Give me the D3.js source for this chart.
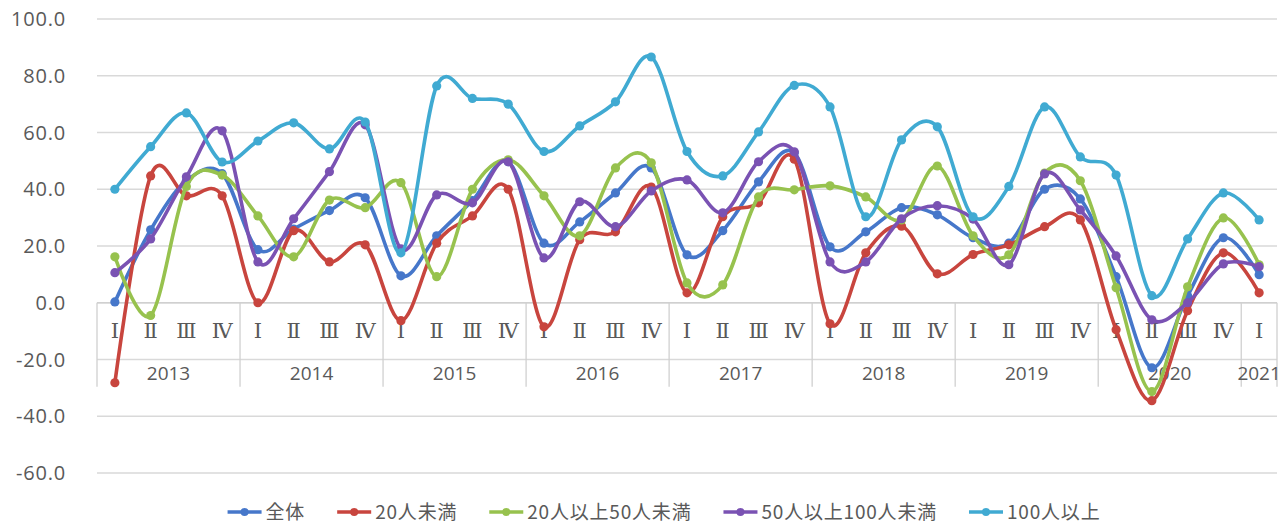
<!DOCTYPE html>
<html><head><meta charset="utf-8">
<script src="https://cdn.jsdelivr.net/npm/d3@7"></script>
<style>
html,body{margin:0;padding:0;background:#fff;}
svg{display:block;}
</style></head>
<body>
<svg id="chart" width="1282" height="526"></svg>
<script>
const quarterLabels = ["Ⅰ","Ⅱ","Ⅲ","Ⅳ"];
const years = ["2013","2014","2015","2016","2017","2018","2019","2020","2021"];
const categories = [];
years.forEach(yr => quarterLabels.forEach(q => { if (!(yr === "2021" && q !== "Ⅰ")) categories.push({year: yr, q: q}); }));

const seriesNames = ["全体","20人未満","20人以上50人未満","50人以上100人未満","100人以上"];
const total = [0.3,25.7,43,45.5,18.7,26,32.5,37,9.5,23.6,36,49.7,21,28.5,38.7,47.5,16.9,25.4,42.6,52.8,19.7,25,33.5,31,22.9,21,40,36.6,9.2,-22.9,2.5,22.9,9.9];
const under20 = [-28.2,44.7,37.7,37.7,0,25.4,14.4,20.4,-6.3,21,30.6,40,-8.5,22.2,25,40.8,3.5,30.3,35.2,50.6,-7.4,17.6,27,10.2,17,20.4,26.8,29.2,-9.5,-34.5,-2.8,17.6,3.5];
const from20to50 = [16.2,-4.5,41,45,30.6,16.2,36.2,33.5,42.3,9.2,40,50.4,37.7,23.6,47.5,49.3,7,6.3,37.3,39.8,41.2,37.3,29.2,48.2,23.6,16.9,45.7,43,5.3,-31.3,5.6,29.9,13.4];
const from50to100 = [10.6,22.5,44.4,60.6,14.4,29.6,46.2,62.7,19,38,35.2,49.7,15.8,35.6,26.8,39.4,43.3,31.7,49.7,53.2,14.4,14.4,29.6,34.2,29.5,13.4,45.4,32.7,16.5,-6,0,13.7,12.7];
const over100 = [40,55,66.9,49.6,57,63.4,54.2,63.7,17.6,76.4,72,70,53.3,62.3,70.8,86.6,53.3,44.7,60.2,76.6,69,30.3,57.4,62,30.3,41,69,51.4,45,2.5,22.5,38.7,29.2];
const yTicks = [-60,-40,-20,0,20,40,60,80,100];

const colors = ["#4677CA","#C8453E","#97C24E","#7A52B3","#40AAD2"];
const seriesValues = [total, under20, from20to50, from50to100, over100];

const svg = d3.select("#chart");
const plotLeft = 97, plotRight = 1277, plotTop = 19, plotBottom = 473;

const x = d3.scaleBand().domain(d3.range(categories.length)).range([plotLeft, plotRight]).padding(0);
const y = d3.scaleLinear().domain([-60, 100]).range([plotBottom, plotTop]);
const cx = i => x(i) + x.bandwidth() / 2;

// gridlines
svg.append("g").selectAll("line").data(yTicks).join("line")
  .attr("x1", plotLeft).attr("x2", plotRight)
  .attr("y1", d => y(d)).attr("y2", d => y(d))
  .attr("stroke", "#d9d9d9").attr("stroke-width", 1.3);

// y labels
svg.append("g").selectAll("text").data(yTicks).join("text")
  .attr("x", 66).attr("y", d => y(d)).attr("dy", "0.35em")
  .attr("text-anchor", "end")
  .attr("font-family", "Open Sans, sans-serif").attr("font-size", 20)
  .attr("letter-spacing", 0.8)
  .attr("fill", "#595959")
  .text(d => d.toFixed(1));

// category axis
const axisY = y(0);
svg.append("line").attr("x1", plotLeft).attr("x2", plotRight).attr("y1", axisY).attr("y2", axisY)
  .attr("stroke", "#d0d0d0").attr("stroke-width", 1.3);
const yearStarts = [];
categories.forEach((c, i) => { if (i === 0 || categories[i-1].year !== c.year) yearStarts.push(i); });
const sepXs = yearStarts.map(i => x(i)).concat([plotRight]);
svg.append("g").selectAll("line").data(sepXs).join("line")
  .attr("x1", d => d).attr("x2", d => d).attr("y1", axisY).attr("y2", axisY + 84)
  .attr("stroke", "#d0d0d0").attr("stroke-width", 1.3);

svg.append("g").selectAll("text").data(categories).join("text")
  .attr("x", (d, i) => cx(i)).attr("y", axisY + 28).attr("dy", "0.36em")
  .attr("text-anchor", "middle")
  .attr("font-family", "DejaVu Serif, serif").attr("font-size", 21)
  .attr("fill", "#595959")
  .text(d => d.q);

svg.append("g").selectAll("text").data(yearStarts).join("text")
  .attr("x", (d, k) => {
    const end = k + 1 < yearStarts.length ? yearStarts[k+1] : categories.length;
    return (x(d) + (end === categories.length ? plotRight : x(end))) / 2;
  })
  .attr("y", axisY + 71).attr("dy", "0.35em")
  .attr("text-anchor", "middle")
  .attr("font-family", "Open Sans, sans-serif").attr("font-size", 19)
  .attr("fill", "#595959")
  .text(d => categories[d].year);

// series
const line = d3.line().x((d, i) => cx(i)).y(d => y(d)).curve(d3.curveCardinal.tension(0));
seriesValues.forEach((vals, s) => {
  const g = svg.append("g");
  g.append("path").datum(vals).attr("d", line)
    .attr("fill", "none").attr("stroke", colors[s]).attr("stroke-width", 3.6)
    .attr("stroke-linejoin", "round").attr("stroke-linecap", "round");
  g.selectAll("circle").data(vals).join("circle")
    .attr("cx", (d, i) => cx(i)).attr("cy", d => y(d)).attr("r", 4.6)
    .attr("fill", colors[s]);
});

// legend
const legend = svg.append("g");
const legY = 512;
const items = [];
seriesNames.forEach((name, s) => {
  const it = legend.append("g");
  it.append("line").attr("x1", 0).attr("x2", 34).attr("y1", 0).attr("y2", 0)
    .attr("stroke", colors[s]).attr("stroke-width", 3.4);
  it.append("circle").attr("cx", 17).attr("cy", 0).attr("r", 4).attr("fill", colors[s]);
  const t = it.append("text").attr("x", 38).attr("y", 0).attr("dy", "0.36em")
    .attr("font-family", "Noto Sans CJK JP, sans-serif").attr("font-size", 19)
    .attr("letter-spacing", 0.8)
    .attr("fill", "#595959").text(name);
  const w = 38 + t.node().getComputedTextLength();
  items.push({it, w});
});
const gap = 32;
const totalW = d3.sum(items, d => d.w) + gap * (items.length - 1);
let lx = 664 - totalW / 2;
items.forEach(d => { d.it.attr("transform", `translate(${lx},${legY})`); lx += d.w + gap; });
</script>
</body></html>
